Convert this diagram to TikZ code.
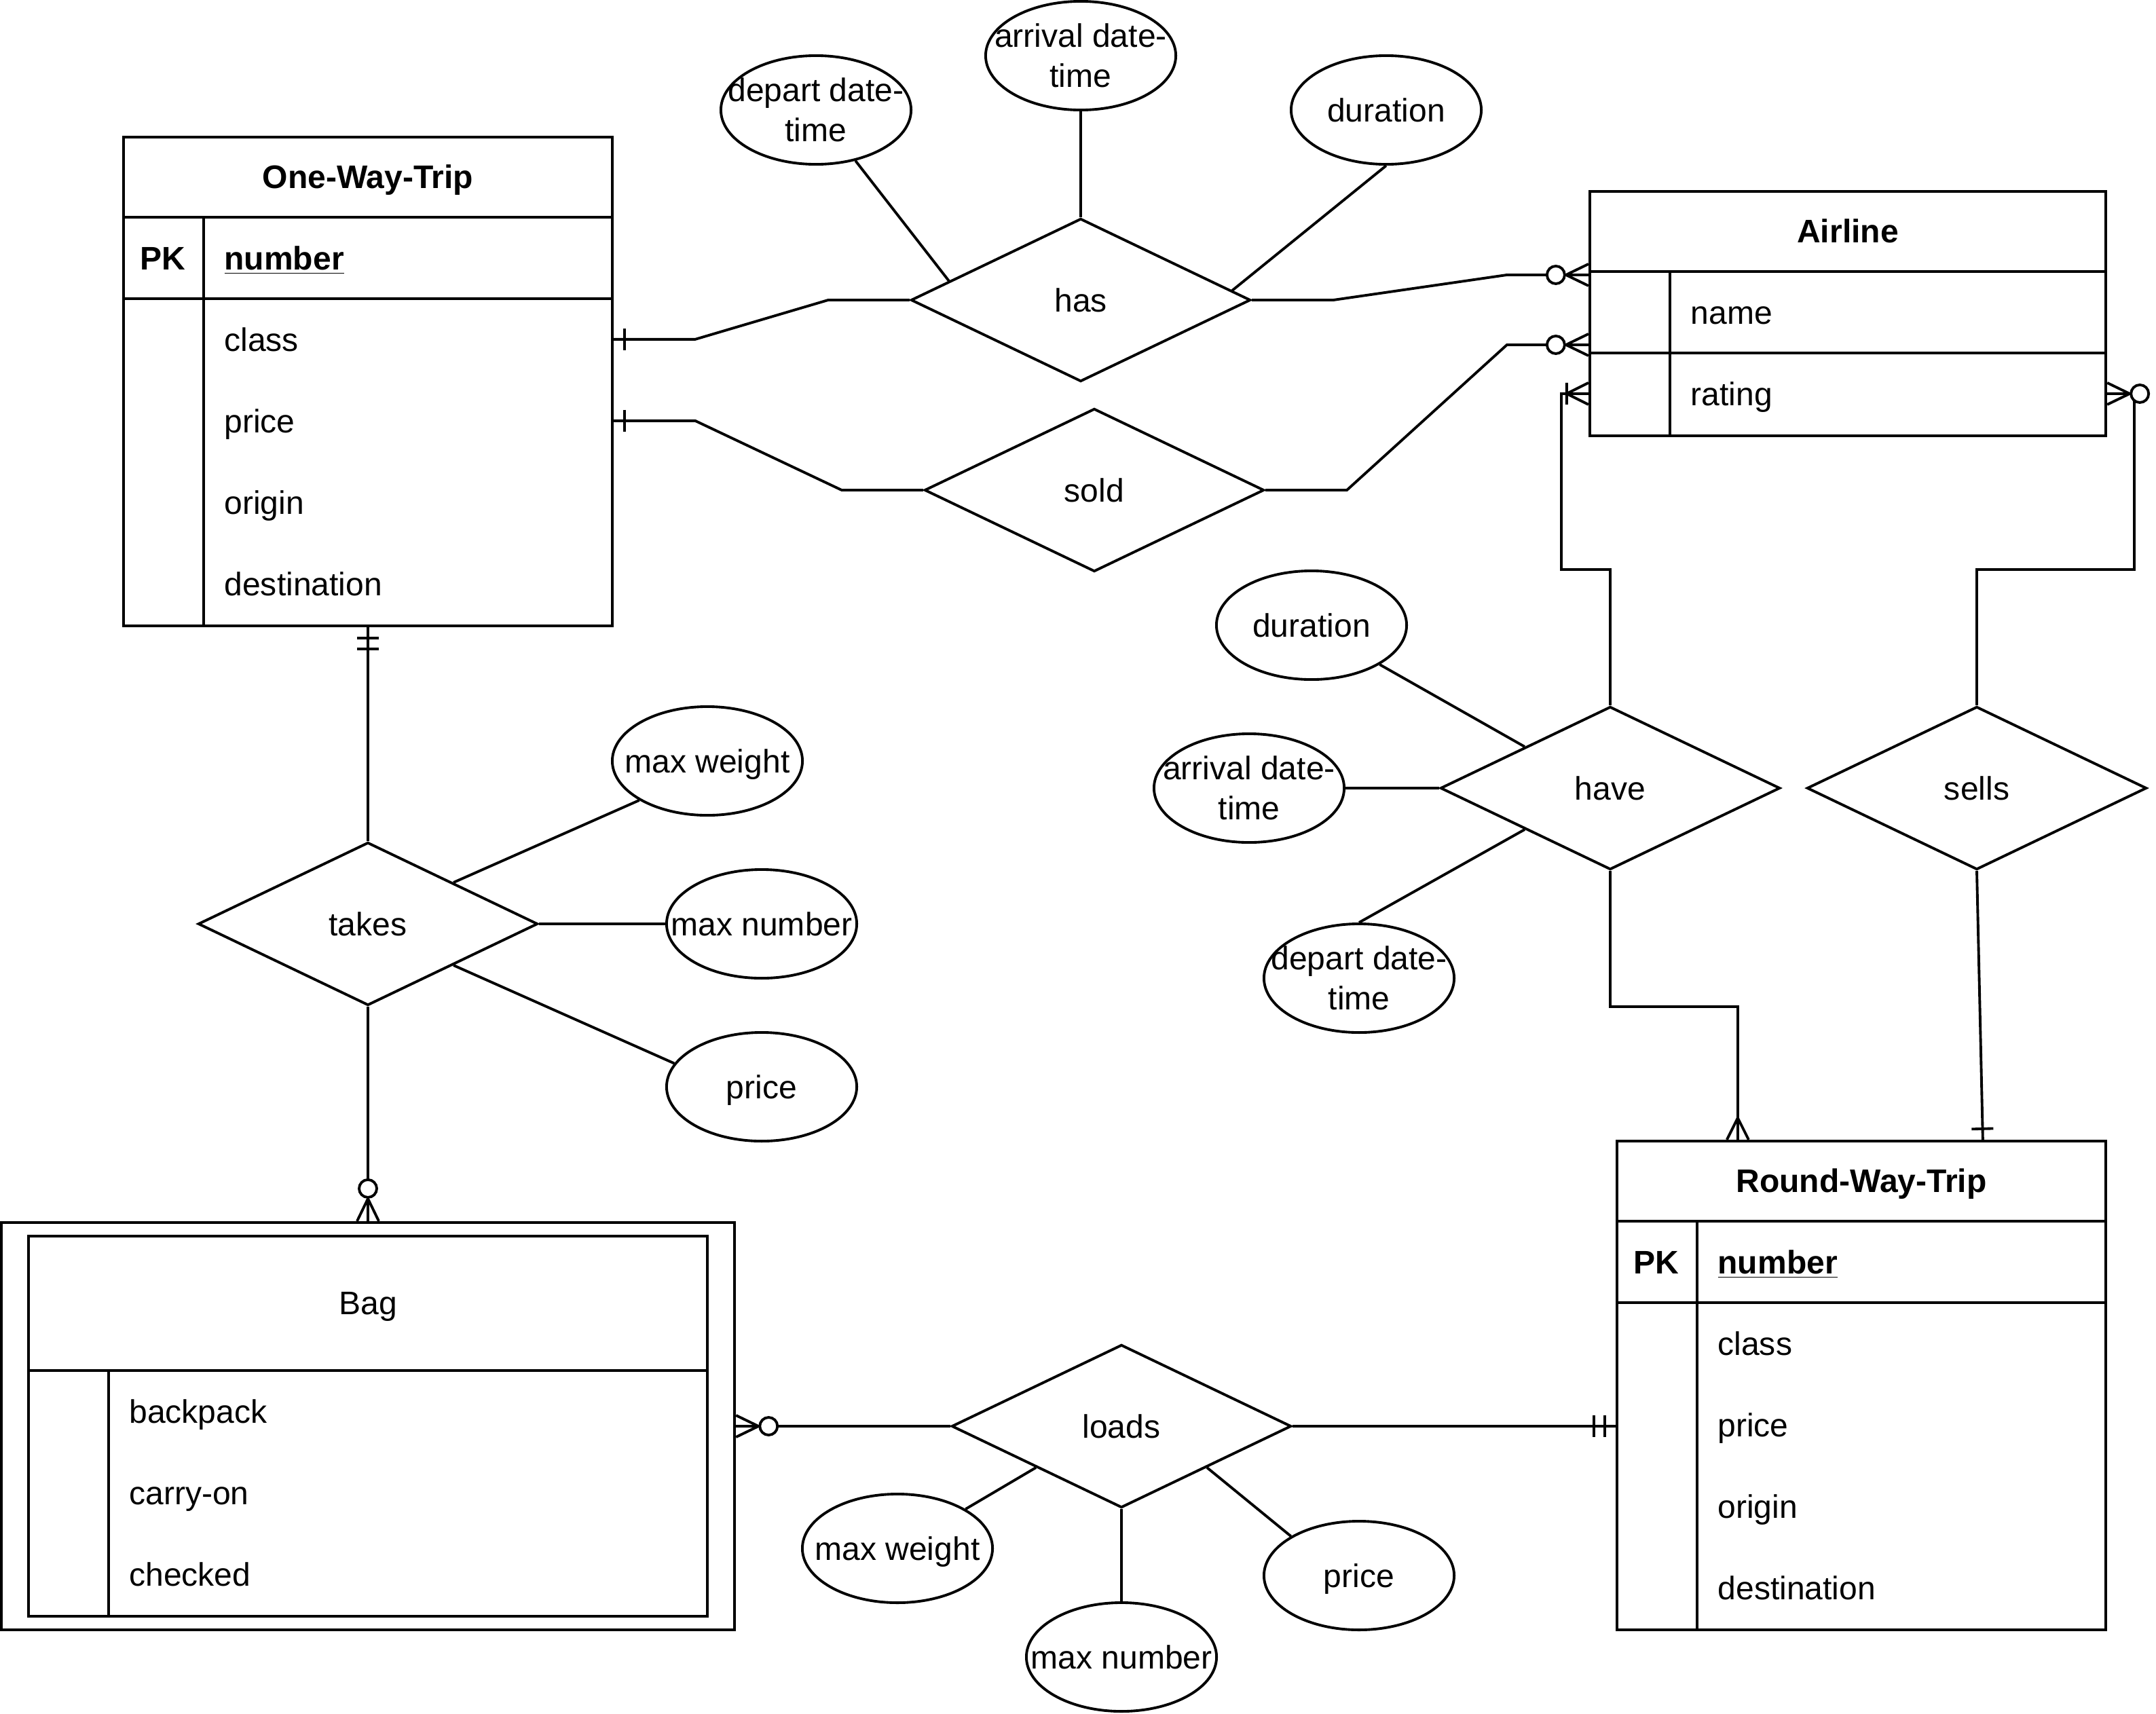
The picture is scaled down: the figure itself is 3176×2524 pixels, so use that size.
\documentclass[tikz,border=0pt]{standalone}
\usepackage{fontspec}
\setmainfont{Liberation Sans}
\usetikzlibrary{shapes.geometric,calc}
\tikzset{
  every node/.style={font=\fontsize{13.66}{16.8}\selectfont, text height=9.8pt, text depth=0pt, inner sep=0pt},
  bold/.style={font=\fontsize{13.66}{16.8}\selectfont\bfseries},
  ent/.style={draw, rectangle, line width=1.1pt},
  rel/.style={draw, diamond, minimum width=5cm, minimum height=2.4cm, line width=1.1pt},
  attr/.style={draw, ellipse, minimum width=2.8cm, minimum height=1.6cm, line width=1.1pt},
  lbl/.style={align=center},
  mlbl/.style={align=center, yshift=-0.29cm},
  rowtxt/.style={anchor=west},
  conn/.style={line width=1.1pt},
  ermk-one/.pic={\draw[line width=1.1pt] (16,-16) -- (16,16);},
  ermk-mand/.pic={\draw[line width=1.1pt] (16,-16) -- (16,16) (32,-16) -- (32,16);},
  ermk-many/.pic={\draw[line width=1.1pt] (0,-16) -- (32,0) -- (0,16);},
  ermk-onemany/.pic={\draw[line width=1.1pt] (0,-16) -- (32,0) -- (0,16) (32,-16) -- (32,16);},
  ermk-zmany/.pic={\draw[line width=1.1pt] (0,-16) -- (33,0) -- (0,16);
                   \draw[line width=1.1pt, fill=white] (48,0) circle[radius=0.13cm];},
}
\begin{document}
\begin{tikzpicture}[x={(0.01cm,0)}, y={(0,-0.01cm)}]
\useasboundingbox (0,0) rectangle (3176,2524);

% ---------- One-Way-Trip ----------
\node[ent, minimum width=7.2cm, minimum height=7.2cm] (owt) at (542,562) {};
\draw[conn] ($(owt.north west)+(0,120)$) -- ($(owt.north east)+(0,120)$);
\draw[conn] ($(owt.north west)+(0,240)$) -- ($(owt.north east)+(0,240)$);
\draw[conn] ($(owt.north west)+(120,120)$) -- ($(owt.south west)+(120,0)$);
\node[bold] (owt-h) at ($(owt.north)+(0,60)$) {One-Way-Trip};
\node[bold] (owt-pk) at ($(owt.north west)+(60,180)$) {PK};
\node[bold, rowtxt] (owt-num) at ($(owt.north west)+(150,180)$) {\underline{number}};
\node[rowtxt] (owt-class) at ($(owt.north west)+(150,300)$) {class};
\node[rowtxt] (owt-price) at ($(owt.north west)+(150,420)$) {price};
\node[rowtxt] (owt-origin) at ($(owt.north west)+(150,540)$) {origin};
\node[rowtxt] (owt-dest) at ($(owt.north west)+(150,660)$) {destination};

% ---------- Airline ----------
\node[ent, minimum width=7.6cm, minimum height=3.6cm] (al) at (2722,462) {};
\draw[conn] ($(al.north west)+(0,120)$) -- ($(al.north east)+(0,120)$);
\draw[conn] ($(al.north west)+(0,240)$) -- ($(al.north east)+(0,240)$);
\draw[conn] ($(al.north west)+(120,120)$) -- ($(al.south west)+(120,0)$);
\node[bold] (al-h) at ($(al.north)+(0,60)$) {Airline};
\node[rowtxt] (al-name) at ($(al.north west)+(150,180)$) {name};
\node[rowtxt] (al-rating) at ($(al.north west)+(150,300)$) {rating};

% ---------- Round-Way-Trip ----------
\node[ent, minimum width=7.2cm, minimum height=7.2cm] (rwt) at (2742,2041) {};
\draw[conn] ($(rwt.north west)+(0,120)$) -- ($(rwt.north east)+(0,120)$);
\draw[conn] ($(rwt.north west)+(0,240)$) -- ($(rwt.north east)+(0,240)$);
\draw[conn] ($(rwt.north west)+(120,120)$) -- ($(rwt.south west)+(120,0)$);
\node[bold] (rwt-h) at ($(rwt.north)+(0,60)$) {Round-Way-Trip};
\node[bold] (rwt-pk) at ($(rwt.north west)+(60,180)$) {PK};
\node[bold, rowtxt] (rwt-num) at ($(rwt.north west)+(150,180)$) {\underline{number}};
\node[rowtxt] (rwt-class) at ($(rwt.north west)+(150,300)$) {class};
\node[rowtxt] (rwt-price) at ($(rwt.north west)+(150,420)$) {price};
\node[rowtxt] (rwt-origin) at ($(rwt.north west)+(150,540)$) {origin};
\node[rowtxt] (rwt-dest) at ($(rwt.north west)+(150,660)$) {destination};

% ---------- Bag (weak entity) ----------
\node[ent, minimum width=10.8cm, minimum height=6cm] (bag) at (542,2101) {};
\node[ent, minimum width=10cm, minimum height=5.6cm] (bag-in) at (542,2101) {};
\draw[conn] ($(bag-in.north west)+(0,200)$) -- ($(bag-in.north east)+(0,200)$);
\draw[conn] ($(bag-in.north west)+(120,200)$) -- ($(bag-in.south west)+(120,0)$);
\node (bag-h) at ($(bag-in.north)+(0,100)$) {Bag};
\node[rowtxt] (bag-bp) at ($(bag-in.north west)+(150,260)$) {backpack};
\node[rowtxt] (bag-co) at ($(bag-in.north west)+(150,380)$) {carry-on};
\node[rowtxt] (bag-ch) at ($(bag-in.north west)+(150,500)$) {checked};

% ---------- Relationships ----------
\node[rel] (has) at (1592,442) {has};
\node[rel] (sold) at (1612,722) {sold};
\node[rel] (takes) at (542,1361) {takes};
\node[rel] (have) at (2372,1161) {have};
\node[rel] (sells) at (2912,1161) {sells};
\node[rel] (loads) at (1652,2101) {loads};

% ---------- Attributes ----------
\node[attr] (dep1) at (1202,162) {};
\node[mlbl] (dep1-t) at (dep1) {depart date-\\time};
\node[attr] (arr1) at (1592,82) {};
\node[mlbl] (arr1-t) at (arr1) {arrival date-\\time};
\node[attr] (dur1) at (2042,162) {};
\node[lbl] (dur1-t) at (dur1) {duration};
\node[attr] (dur2) at (1932,921) {};
\node[lbl] (dur2-t) at (dur2) {duration};
\node[attr] (arr2) at (1840,1161) {};
\node[mlbl] (arr2-t) at (arr2) {arrival date-\\time};
\node[attr] (dep2) at (2002,1441) {};
\node[mlbl] (dep2-t) at (dep2) {depart date-\\time};
\node[attr] (mw1) at (1042,1121) {};
\node[lbl] (mw1-t) at (mw1) {max weight};
\node[attr] (mn1) at (1122,1361) {};
\node[lbl] (mn1-t) at (mn1) {max number};
\node[attr] (pr1) at (1122,1601) {};
\node[lbl] (pr1-t) at (pr1) {price};
\node[attr] (mw2) at (1322,2281) {};
\node[lbl] (mw2-t) at (mw2) {max weight};
\node[attr] (mn2) at (1652,2441) {};
\node[lbl] (mn2-t) at (mn2) {max number};
\node[attr] (pr2) at (2002,2321) {};
\node[lbl] (pr2-t) at (pr2) {price};

% attribute links
\draw[conn] (dep1) -- ($(has.west)!0.23!(has.north)$);
\draw[conn] (arr1) -- (has.north);
\draw[conn] (dur1.south) -- ($(has.north)!0.885!(has.east)$);
\draw[conn] (dur2.south east) -- ($(have.west)!0.5!(have.north)$);
\draw[conn] (arr2) -- (have.west);
\draw[conn] (dep2.north) -- ($(have.west)!0.5!(have.south)$);
\draw[conn] (mw1.south west) -- ($(takes.north)!0.5!(takes.east)$);
\draw[conn] (mn1) -- (takes.east);
\draw[conn] (pr1.165) -- ($(takes.east)!0.5!(takes.south)$);
\draw[conn] (mw2.north east) -- ($(loads.west)!0.5!(loads.south)$);
\draw[conn] (mn2) -- (loads.south);
\draw[conn] (pr2.north west) -- ($(loads.east)!0.5!(loads.south)$);

% ---------- Relationship connectors ----------
\draw[conn] (owt.east |- owt-class) -- ++(120,0) -- ($(has.west)+(-120,0)$) -- (has.west);
\pic at (owt.east |- owt-class) {ermk-one};

\draw[conn] (owt.east |- owt-price) -- ++(120,0) -- ($(sold.west)+(-120,0)$) -- (sold.west);
\pic at (owt.east |- owt-price) {ermk-one};

\draw[conn] (has.east) -- ++(120,0) -- ($(al.north west)+(-120,125)$) -- ($(al.north west)+(0,125)$);
\pic[rotate=180] at ($(al.north west)+(0,125)$) {ermk-zmany};

\draw[conn] (sold.east) -- ++(120,0) -- ($(al.north west)+(-120,228)$) -- ($(al.north west)+(0,228)$);
\pic[rotate=180] at ($(al.north west)+(0,228)$) {ermk-zmany};

\draw[conn] (have.north) -- ++(0,-200) -| ($(al.west |- al-rating)+(-40,0)$) -- (al.west |- al-rating);
\pic[rotate=180] at (al.west |- al-rating) {ermk-onemany};

\draw[conn] (sells.north) -- ++(0,-200) -| ($(al.east |- al-rating)+(40,0)$) -- (al.east |- al-rating);
\pic at (al.east |- al-rating) {ermk-zmany};

\draw[conn] (have.south) -- ++(0,200) -| ($(rwt.north west)+(180,0)$);
\pic[rotate=90] at ($(rwt.north west)+(180,0)$) {ermk-many};

\draw[conn] (sells.south) -- ($(rwt.north west)+(541,0)$);
\pic[rotate=91.6] at ($(rwt.north west)+(541,0)$) {ermk-one};

\draw[conn] (owt.south) -- (takes.north);
\pic[rotate=-90] at (owt.south) {ermk-mand};

\draw[conn] (takes.south) -- (bag.north);
\pic[rotate=90] at (bag.north) {ermk-zmany};

\draw[conn] (loads.west) -- (bag.east);
\pic at (bag.east) {ermk-zmany};

\draw[conn] (loads.east) -- (rwt.west |- loads);
\pic[rotate=180] at (rwt.west |- loads) {ermk-mand};
\end{tikzpicture}
\end{document}
